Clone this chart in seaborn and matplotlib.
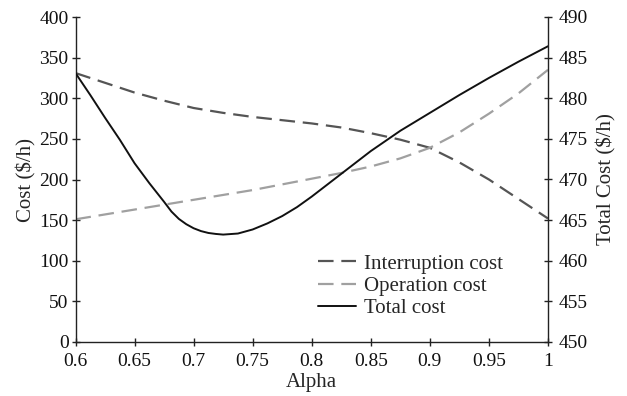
import matplotlib
matplotlib.use("Agg")
import matplotlib.pyplot as plt
import seaborn as sns
import pandas as pd

alpha = [0.6, 0.625, 0.65, 0.675, 0.7, 0.725, 0.75, 0.775, 0.8, 0.825,
         0.85, 0.875, 0.9, 0.925, 0.95, 0.975, 1.0]
interruption = [331, 319, 307, 297, 288, 282, 277, 273, 269, 264,
                257, 249, 239, 221, 200, 176, 152]
operation = [151, 157, 163, 169, 175, 181, 187, 194, 201, 208,
             216, 226, 239, 258, 281, 306, 335]

alpha_total = [0.6, 0.6125, 0.625, 0.6375, 0.65, 0.6625, 0.66875, 0.675,
               0.68125, 0.6875, 0.69375, 0.7, 0.70625, 0.7125, 0.71875, 0.725,
               0.7375, 0.75, 0.7625, 0.775, 0.7875, 0.8, 0.8125, 0.825, 0.85,
               0.875, 0.9, 0.925, 0.95, 0.975, 1.0]
total = [483.1, 480.4, 477.6, 474.9, 472.0, 469.55, 468.4, 467.25,
         466.05, 465.15, 464.5, 464.0, 463.65, 463.42, 463.3, 463.22,
         463.35, 463.85, 464.6, 465.5, 466.6, 467.9, 469.3, 470.7, 473.5,
         476.0, 478.2, 480.4, 482.5, 484.5, 486.4]

x_ticks = [0.6, 0.65, 0.7, 0.75, 0.8, 0.85, 0.9, 0.95, 1.0]
x_labels = ["0.6", "0.65", "0.7", "0.75", "0.8", "0.85", "0.9", "0.95", "1"]
left_ticks = [0, 50, 100, 150, 200, 250, 300, 350, 400]
right_ticks = [450, 455, 460, 465, 470, 475, 480, 485, 490]

df = pd.DataFrame({"alpha": alpha, "interruption": interruption,
                   "operation": operation})
df_total = pd.DataFrame({"alpha": alpha_total, "total": total})

sns.set_style("ticks")
plt.rcParams["font.family"] = ["Liberation Serif", "DejaVu Serif"]
plt.rcParams["font.size"] = 14

fig = plt.figure(figsize=(6.27, 3.96), dpi=100)
ax = fig.add_axes([75.5/627, 1-342/396, (548-75.5)/627, (342-17)/396])
ax2 = ax.twinx()

sns.lineplot(data=df, x="alpha", y="interruption", ax=ax, color="#555555",
             linewidth=1.6, legend=False)
ax.lines[-1].set_dashes((7, 3.5))
sns.lineplot(data=df, x="alpha", y="operation", ax=ax, color="#a0a0a0",
             linewidth=1.6, legend=False)
ax.lines[-1].set_dashes((7, 3.5))
sns.lineplot(data=df_total, x="alpha", y="total", ax=ax2, color="#111111",
             linewidth=1.4, legend=False)

ax.set_xlim(0.6, 1.0)
ax.set_ylim(0, 400)
ax2.set_ylim(450, 490)
ax.set_xticks(x_ticks)
ax.set_xticklabels(x_labels)
ax.set_yticks(left_ticks)
ax2.set_yticks(right_ticks)

ax.set_xlabel("Alpha", fontsize=15, labelpad=2)
ax.set_ylabel("Cost (\\$/h)", fontsize=15, labelpad=2)
ax2.set_ylabel("Total Cost (\\$/h)", fontsize=15, labelpad=6)

for a in (ax, ax2):
    a.spines["top"].set_visible(False)
    for s in a.spines.values():
        s.set_color("#222222")
        s.set_linewidth(1.0)
    a.tick_params(direction="inout", length=6, width=1.0, colors="#222222",
                  labelcolor="#111111", pad=2, labelsize=14)
ax.tick_params(axis="x", pad=5)
ax2.tick_params(axis="y", pad=5)
ax.spines["right"].set_visible(False)
ax2.spines["left"].set_visible(False)
ax2.spines["bottom"].set_visible(False)

handles = ax.lines[:2] + ax2.lines[:1]
labels = ["Interruption cost", "Operation cost", "Total cost"]
fig.legend(handles, labels, loc="upper left", bbox_to_anchor=(318/627, 1-254/396),
           frameon=False, borderpad=0, borderaxespad=0, handlelength=1.8,
           handletextpad=0.4, labelspacing=0.13, fontsize=15)

fig.savefig("out.png", dpi=100)
